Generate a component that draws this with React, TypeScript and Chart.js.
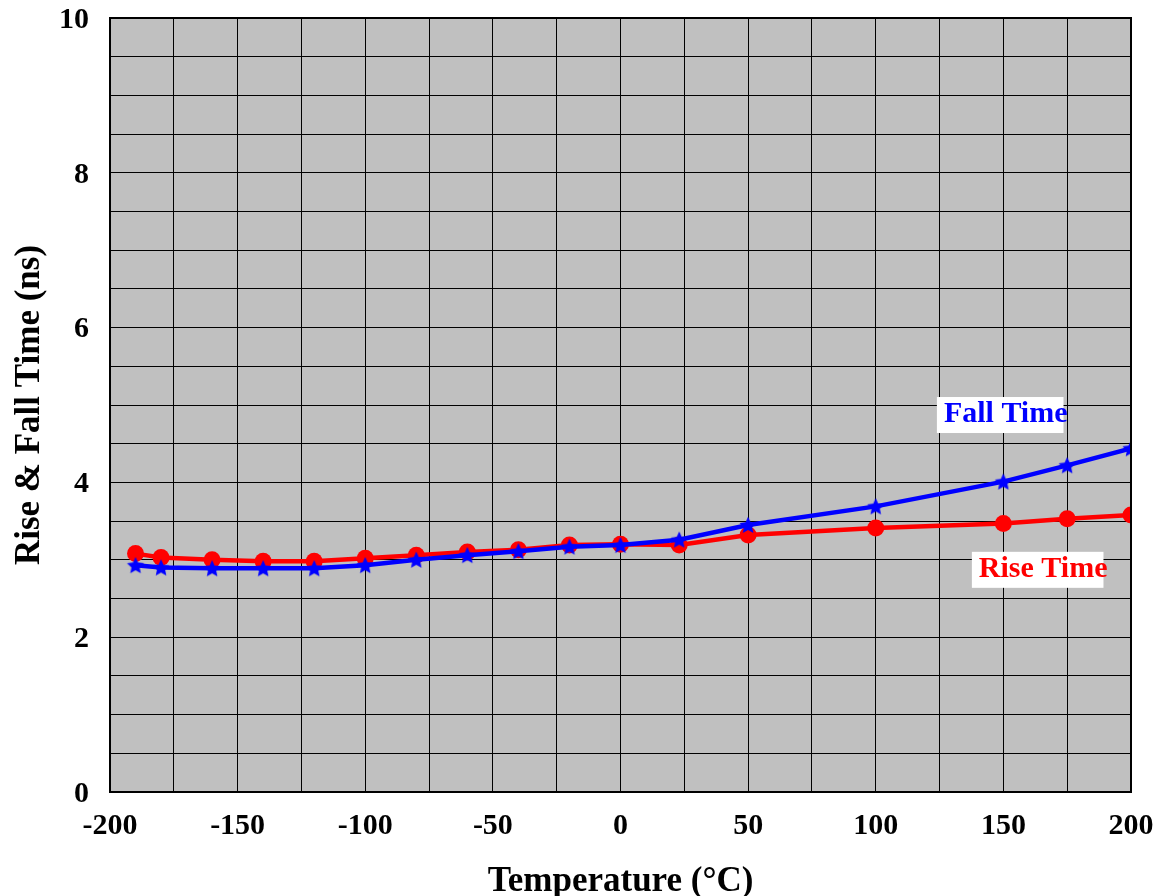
import React, { useEffect, useRef } from "react";
import { Chart, registerables } from "chart.js";

Chart.register(...registerables);

const temperatures = [-190, -180, -160, -140, -120, -100, -80, -60, -40, -20, 0, 23, 50, 100, 150, 175, 200];
const riseTime = [3.08, 3.03, 3.0, 2.98, 2.98, 3.02, 3.06, 3.1, 3.13, 3.19, 3.2, 3.19, 3.32, 3.41, 3.47, 3.53, 3.58];
const fallTime = [2.93, 2.9, 2.89, 2.89, 2.89, 2.93, 3.0, 3.06, 3.11, 3.17, 3.19, 3.26, 3.45, 3.69, 4.01, 4.22, 4.44];

const xTickLabels = [-200, -150, -100, -50, 0, 50, 100, 150, 200];
const yTickLabels = [0, 2, 4, 6, 8, 10];

const seriesLabels = [
  { text: "Fall Time", x: 126.7, y: 4.78, color: "#0000ff" },
  { text: "Rise Time", x: 140.4, y: 2.78, color: "#ff0000" },
];

const FONT = "'Liberation Serif', 'Times New Roman', serif";

function makeStar(color: string, outer: number, inner: number): HTMLCanvasElement {
  const size = Math.ceil(outer * 2 + 2);
  const c = document.createElement("canvas");
  c.width = size;
  c.height = size;
  const ctx = c.getContext("2d")!;
  const cx = size / 2;
  const cy = size / 2 + 0.8;
  ctx.beginPath();
  for (let i = 0; i < 10; i++) {
    const r = i % 2 === 0 ? outer : inner;
    const a = -Math.PI / 2 + (i * Math.PI) / 5;
    const px = cx + r * Math.cos(a);
    const py = cy + r * Math.sin(a);
    if (i === 0) ctx.moveTo(px, py);
    else ctx.lineTo(px, py);
  }
  ctx.closePath();
  ctx.fillStyle = color;
  ctx.fill();
  return c;
}

export default function App() {
  const ref = useRef<HTMLCanvasElement | null>(null);

  useEffect(() => {
    if (!ref.current) return;
    const star = makeStar("#0000ff", 9, 4.3);

    const bgPlugin = {
      id: "bgPlugin",
      beforeDraw(chart: any) {
        const { ctx, chartArea: a } = chart;
        ctx.save();
        ctx.fillStyle = "#ffffff";
        ctx.fillRect(0, 0, chart.width, chart.height);
        ctx.fillStyle = "#c0c0c0";
        ctx.fillRect(a.left, a.top, a.right - a.left, a.bottom - a.top);
        ctx.restore();
      },
      afterDatasetsDraw(chart: any) {
        const { ctx, chartArea: a, scales } = chart;
        ctx.save();
        ctx.strokeStyle = "#000000";
        ctx.lineWidth = 2;
        ctx.strokeRect(a.left, a.top, a.right - a.left, a.bottom - a.top);
        ctx.font = `bold 30px ${FONT}`;
        ctx.textBaseline = "alphabetic";
        ctx.textAlign = "left";
        for (const l of seriesLabels) {
          const px = scales.x.getPixelForValue(l.x);
          const py = scales.y.getPixelForValue(l.y);
          const w = ctx.measureText(l.text).width;
          ctx.fillStyle = "#ffffff";
          ctx.fillRect(px - 7, py - 25, w + 3, 36);
          ctx.fillStyle = l.color;
          ctx.fillText(l.text, px, py);
        }
        ctx.restore();
      },
    };

    const chart = new Chart(ref.current, {
      type: "line",
      data: {
        datasets: [
          {
            label: "Fall Time",
            data: temperatures.map((t, i) => ({ x: t, y: fallTime[i] })),
            borderColor: "#0000ff",
            backgroundColor: "#0000ff",
            borderWidth: 4.5,
            pointStyle: star as any,
            pointRadius: 9,
            tension: 0,
          },
          {
            label: "Rise Time",
            data: temperatures.map((t, i) => ({ x: t, y: riseTime[i] })),
            borderColor: "#ff0000",
            backgroundColor: "#ff0000",
            borderWidth: 4.5,
            pointStyle: "circle",
            pointRadius: 8.5,
            pointBorderWidth: 0,
            tension: 0,
          },
        ],
      },
      options: {
        animation: false,
        responsive: false,
        maintainAspectRatio: false,
        layout: { padding: { left: 0, top: 18, right: 28, bottom: 0 } },
        plugins: {
          legend: { display: false },
          tooltip: { enabled: false },
        },
        scales: {
          x: {
            type: "linear",
            min: -200,
            max: 200,
            afterFit(scale: any) {
              scale.height = 104;
              scale.paddingLeft = 0;
              scale.paddingRight = 0;
            },
            ticks: {
              stepSize: 25,
              autoSkip: false,
              maxRotation: 0,
              padding: 16,
              color: "#000000",
              font: { family: FONT, size: 30, weight: "bold" },
              callback: (v: any) => (xTickLabels.includes(Number(v)) ? String(v) : ""),
            },
            grid: { color: "#000000", lineWidth: 1, drawTicks: false },
            border: { display: false },
            title: {
              display: true,
              text: "Temperature (°C)",
              color: "#000000",
              font: { family: FONT, size: 35, weight: "bold", lineHeight: 0.8 },
              padding: { top: 0, bottom: 0 },
            },
          },
          y: {
            type: "linear",
            min: 0,
            max: 10,
            afterFit(scale: any) {
              scale.width = 110;
              scale.paddingTop = 0;
              scale.paddingBottom = 0;
            },
            ticks: {
              stepSize: 0.5,
              autoSkip: false,
              padding: 21,
              labelOffset: 2,
              color: "#000000",
              font: { family: FONT, size: 30, weight: "bold" },
              callback: (v: any) => (yTickLabels.includes(Number(v)) ? String(v) : ""),
            },
            grid: { color: "#000000", lineWidth: 1, drawTicks: false },
            border: { display: false },
            title: {
              display: true,
              text: "Rise & Fall Time (ns)",
              color: "#000000",
              font: { family: FONT, size: 35, weight: "bold", lineHeight: 1 },
              padding: { top: 12, bottom: 0 },
            },
          },
        },
      },
      plugins: [bgPlugin],
    });
    return () => chart.destroy();
  }, []);

  return (
    <div style={{ position: "fixed", left: 0, top: 0, width: 1159, height: 896, background: "#fff" }}>
      <canvas ref={ref} width={1159} height={896} style={{ width: 1159, height: 896, display: "block" }} />
    </div>
  );
}
